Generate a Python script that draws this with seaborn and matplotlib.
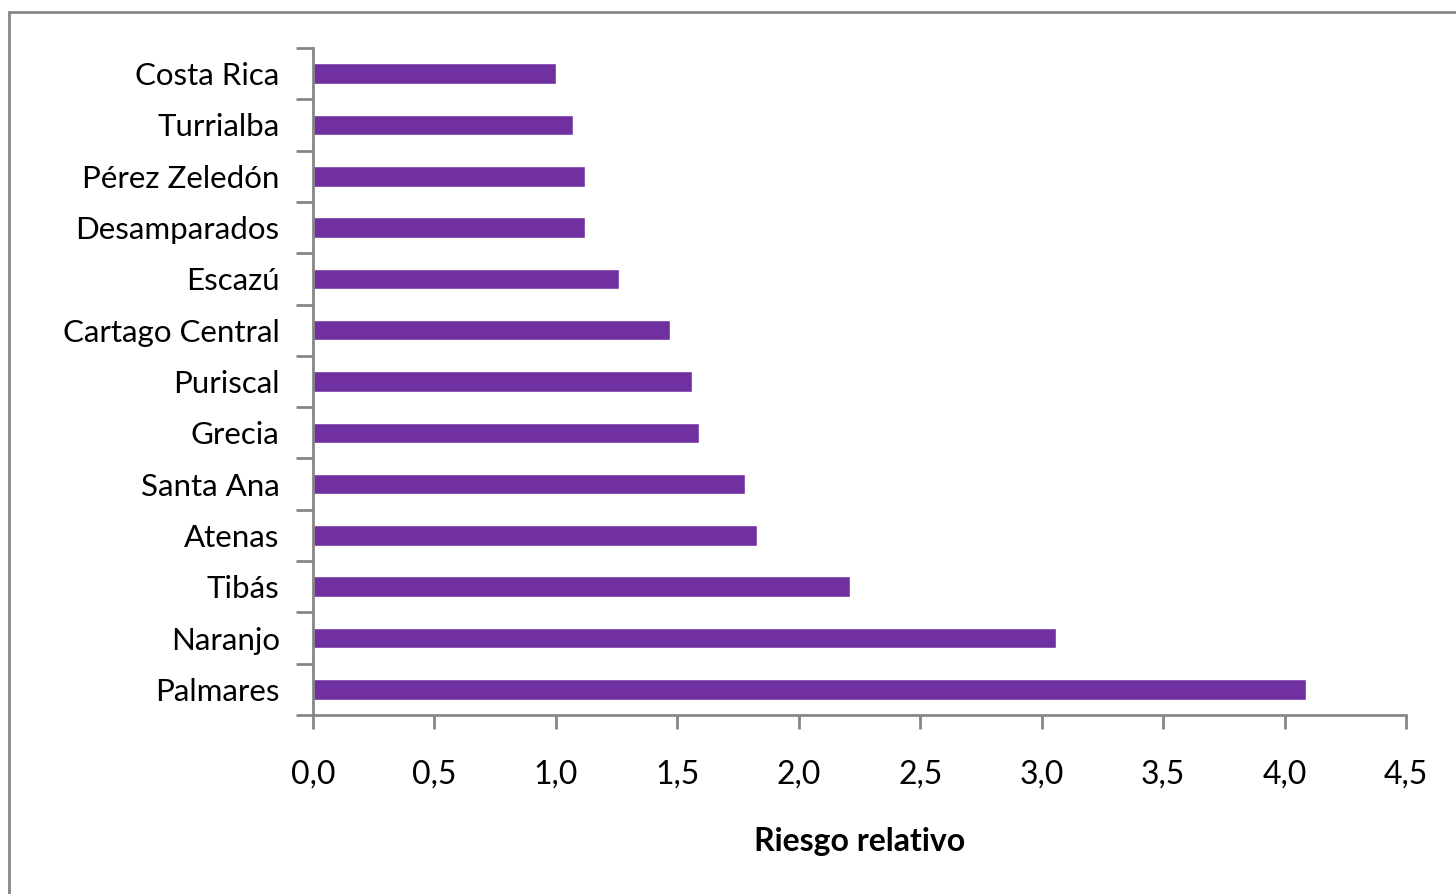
import numpy as np
import pandas as pd
import matplotlib.pyplot as plt
import seaborn as sns
from matplotlib.patches import Rectangle
from matplotlib.ticker import FixedLocator, FuncFormatter

# datos
cantones = ["Costa Rica", "Turrialba", "Pérez Zeledón", "Desamparados", "Escazú",
            "Cartago Central", "Puriscal", "Grecia", "Santa Ana", "Atenas",
            "Tibás", "Naranjo", "Palmares"]
riesgo = [1.00, 1.07, 1.12, 1.12, 1.26, 1.47, 1.56, 1.59, 1.78, 1.83, 2.21, 3.06, 4.09]

df = pd.DataFrame({"canton": cantones, "riesgo": riesgo})

sns.set_style("white")
plt.rcParams['font.family'] = ['Lato', 'DejaVu Sans']

fig = plt.figure(figsize=(14.56, 8.94), dpi=100)
ax = fig.add_axes([313/1456, 1 - 715/894, (1406-313)/1456, (715-48)/894])

sns.barplot(data=df, x="riesgo", y="canton", orient="h", color="#7030A0",
            saturation=1, width=0.4, ax=ax)

gray = "#868686"
ax.set_xlim(0, 4.5)
ax.set_ylim(len(cantones) - 0.5, -0.5)
ax.set_xticks(np.arange(0, 4.51, 0.5))
ax.xaxis.set_major_formatter(FuncFormatter(lambda v, p: f"{v:.1f}".replace(".", ",")))

# ticks del eje y en los limites entre categorias
ax.yaxis.set_minor_locator(FixedLocator(np.arange(-0.5, len(cantones), 1)))
ax.tick_params(left=True, bottom=True, which="both", labelcolor="black")
ax.tick_params(axis="y", which="major", length=0, pad=24, labelsize=22.5)
ax.tick_params(axis="y", which="minor", length=12, width=2, color=gray, direction="out")
ax.tick_params(axis="x", which="major", length=10, width=2, color=gray, direction="out",
               pad=22, labelsize=23)

for side in ["top", "right"]:
    ax.spines[side].set_visible(False)
for side in ["left", "bottom"]:
    ax.spines[side].set_color(gray)
    ax.spines[side].set_linewidth(2)

ax.set_ylabel("")
ax.set_xlabel("Riesgo relativo", fontsize=23, fontweight="bold", labelpad=27, color="black")

# marco exterior
fig.patches.append(Rectangle((9/1456, -0.1), 1.2, 1 - 12/894 + 0.1, transform=fig.transFigure,
                             fill=False, edgecolor=gray, linewidth=2))

fig.savefig("out.png", dpi=100)
